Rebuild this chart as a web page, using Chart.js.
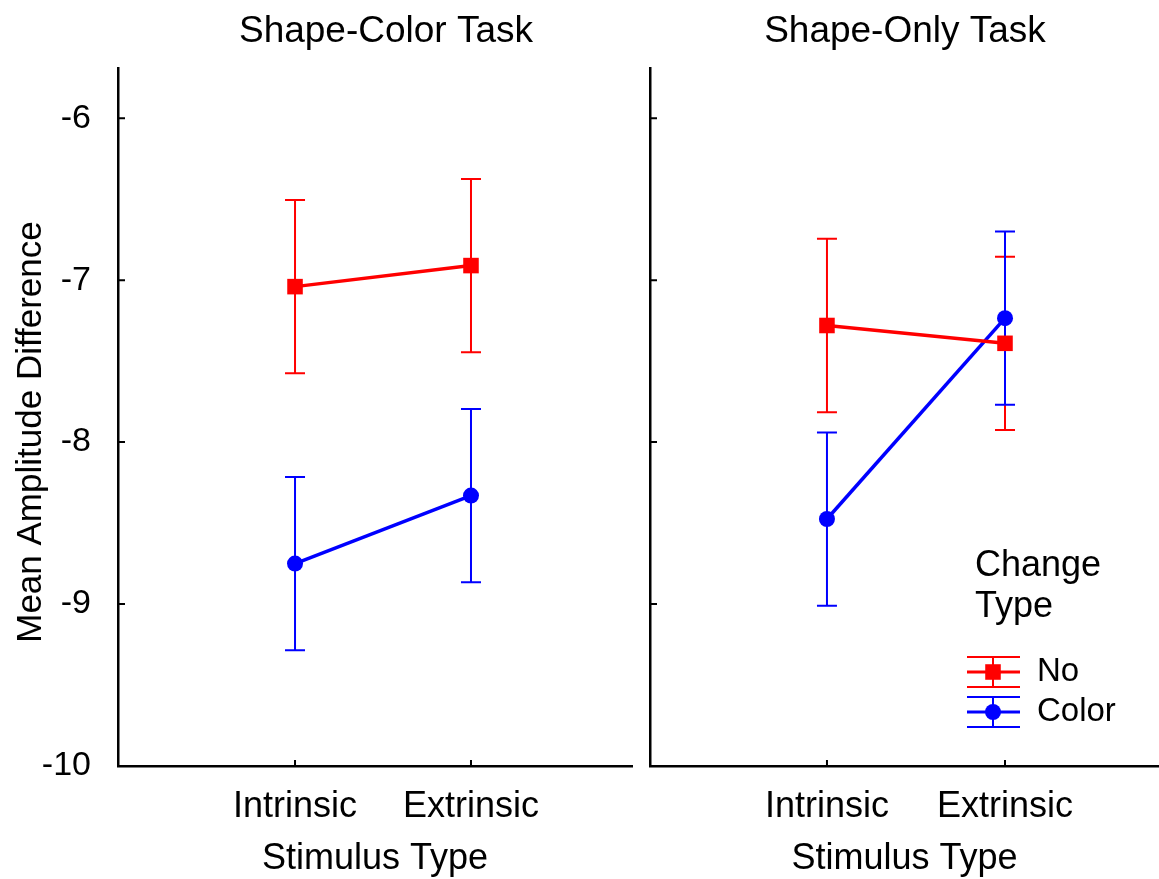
<!DOCTYPE html>
<html>
<head>
<meta charset="utf-8">
<script src="https://cdn.jsdelivr.net/npm/chart.js@4/dist/chart.umd.min.js"></script>
<style>
    body { margin: 0; background: #fff; }
    canvas { position: absolute; top: 0; }
    #left { left: 0; }
    #right { left: 640px; }
</style>
</head>
<body>
<canvas id="left" width="640" height="879" style="width:640px;height:879px"></canvas>
<canvas id="right" width="519" height="879" style="width:519px;height:879px"></canvas>
<script>
// --------------------------------
// Data
// --------------------------------

const categories = ['Intrinsic', 'Extrinsic'];
const yTicks = [-10, -9, -8, -7, -6];
const seriesNames = ['No', 'Color'];

const colorTaskNo = [-7.04, -6.91];
const colorTaskNoErr = [0.535, 0.535];
const colorTaskColor = [-8.75, -8.33];
const colorTaskColorErr = [0.535, 0.535];

const onlyTaskNo = [-7.28, -7.39];
const onlyTaskNoErr = [0.535, 0.535];
const onlyTaskColor = [-8.475, -7.235];
const onlyTaskColorErr = [0.535, 0.535];

// --------------------------------
// Styles
// --------------------------------

const FONT = "'Liberation Sans', Arial, sans-serif";
const RED = 'rgb(255, 0, 0)';
const BLUE = 'rgb(0, 0, 255)';

// --------------------------------
// Plugins
// --------------------------------

const errorBars = {
    id: 'errorBars',
    beforeDatasetsDraw(chart) {
        const ctx = chart.ctx;
        const y = chart.scales.y;
        chart.data.datasets.forEach((ds, i) => {
            const meta = chart.getDatasetMeta(i);
            ctx.save();
            ctx.strokeStyle = ds.borderColor;
            ctx.lineWidth = 2;
            meta.data.forEach((pt, j) => {
                const top = y.getPixelForValue(ds.data[j].y + ds.errors[j]);
                const bot = y.getPixelForValue(ds.data[j].y - ds.errors[j]);
                ctx.beginPath();
                ctx.moveTo(pt.x, top);
                ctx.lineTo(pt.x, bot);
                ctx.moveTo(pt.x - 10, top);
                ctx.lineTo(pt.x + 10, top);
                ctx.moveTo(pt.x - 10, bot);
                ctx.lineTo(pt.x + 10, bot);
                ctx.stroke();
            });
            ctx.restore();
        });
    }
};

// inward tick marks on both axes
const innerTicks = {
    id: 'innerTicks',
    afterDraw(chart) {
        const ctx = chart.ctx;
        const x = chart.scales.x;
        const y = chart.scales.y;
        const area = chart.chartArea;
        ctx.save();
        ctx.strokeStyle = '#000';
        ctx.lineWidth = 2;
        ctx.beginPath();
        yTicks.forEach(v => {
            const py = y.getPixelForValue(v);
            ctx.moveTo(area.left, py);
            ctx.lineTo(area.left + 7, py);
        });
        categories.forEach((c, i) => {
            const px = x.getPixelForValue(i);
            ctx.moveTo(px, area.bottom);
            ctx.lineTo(px, area.bottom - 6);
        });
        ctx.stroke();
        ctx.restore();
    }
};

const panelText = {
    id: 'panelText',
    afterDraw(chart, args, opts) {
        const ctx = chart.ctx;
        ctx.save();
        ctx.fillStyle = '#000';
        ctx.font = '37px ' + FONT;
        ctx.textAlign = 'center';
        ctx.textBaseline = 'middle';
        ctx.fillText(opts.title, opts.titleX, 32);

        if (opts.yTitle) {
            ctx.font = '35px ' + FONT;
            ctx.translate(31, 432);
            ctx.rotate(-Math.PI / 2);
            ctx.fillText(opts.yTitle, 0, 0);
        }
        ctx.restore();
    }
};

const errorLegend = {
    id: 'errorLegend',
    afterDraw(chart, args, opts) {
        if (!opts.show) { return }
        const ctx = chart.ctx;
        const colors = [RED, BLUE];
        const styles = ['rect', 'circle'];
        ctx.save();
        ctx.fillStyle = '#000';
        ctx.font = '36px ' + FONT;
        ctx.textAlign = 'left';
        ctx.textBaseline = 'middle';
        ctx.fillText('Change', 335, 566);
        ctx.fillText('Type', 335, 607);

        ctx.font = '33px ' + FONT;
        seriesNames.forEach((name, i) => {
            const cy = 672 + i * 40;
            ctx.strokeStyle = colors[i];
            ctx.lineWidth = 2;
            ctx.beginPath();
            ctx.moveTo(327, cy - 15);
            ctx.lineTo(380, cy - 15);
            ctx.moveTo(327, cy + 15);
            ctx.lineTo(380, cy + 15);
            ctx.moveTo(353, cy - 15);
            ctx.lineTo(353, cy + 15);
            ctx.stroke();
            ctx.lineWidth = 3;
            ctx.beginPath();
            ctx.moveTo(327, cy);
            ctx.lineTo(380, cy);
            ctx.stroke();
            ctx.fillStyle = colors[i];
            Chart.helpers.drawPoint(ctx, {
                pointStyle: styles[i],
                radius: styles[i] === 'rect' ? 11 : 8,
                borderWidth: 0
            }, 353, cy);
            ctx.fillStyle = '#000';
            ctx.fillText(name, 397, cy);
        });
        ctx.restore();
    }
};

// --------------------------------
// Panels
// --------------------------------

function toPoints(values) {
    return values.map((v, i) => ({ x: i, y: v }));
}

function makePanel(canvas, noVals, noErr, colorVals, colorErr, opts) {
    return new Chart(canvas, {
        type: 'line',
        data: {
            datasets: [{
                label: seriesNames[0],
                data: toPoints(noVals),
                errors: noErr,
                borderColor: RED,
                backgroundColor: RED,
                borderWidth: 3.5,
                pointStyle: 'rect',
                pointRadius: 11,
                pointBorderWidth: 0,
                tension: 0
            }, {
                label: seriesNames[1],
                data: toPoints(colorVals),
                errors: colorErr,
                borderColor: BLUE,
                backgroundColor: BLUE,
                borderWidth: 3.5,
                pointStyle: 'circle',
                pointRadius: 8,
                pointBorderWidth: 0,
                tension: 0
            }]
        },
        options: {
            responsive: false,
            animation: false,
            events: [],
            layout: {
                autoPadding: false,
                padding: { top: 68, right: opts.padRight, left: 0, bottom: 0 }
            },
            plugins: {
                legend: { display: false },
                tooltip: { enabled: false },
                panelText: { title: opts.title, titleX: opts.titleX, yTitle: opts.yTitle },
                errorLegend: { show: opts.legend }
            },
            scales: {
                x: {
                    type: 'linear',
                    min: opts.xMin,
                    max: opts.xMax,
                    afterBuildTicks: scale => {
                        scale.ticks = categories.map((c, i) => ({ value: i }));
                    },
                    afterFit: scale => { scale.height = 113; },
                    grid: { display: false },
                    border: { display: true, color: '#000', width: 2.5 },
                    ticks: {
                        color: '#000',
                        padding: 11,
                        maxRotation: 0,
                        autoSkip: false,
                        font: { family: FONT, size: 36 },
                        callback: v => categories[v]
                    },
                    title: {
                        display: true,
                        text: 'Stimulus Type',
                        color: '#000',
                        padding: { top: 0, bottom: -2 },
                        font: { family: FONT, size: 36 }
                    }
                },
                y: {
                    min: -10,
                    max: -5.69,
                    afterBuildTicks: scale => {
                        scale.ticks = yTicks.map(v => ({ value: v }));
                    },
                    afterFit: scale => { scale.width = opts.yWidth; },
                    grid: { display: false },
                    border: { display: true, color: '#000', width: 2.5 },
                    ticks: {
                        display: opts.yLabels,
                        color: '#000',
                        padding: 19,
                        font: { family: FONT, size: 34 }
                    }
                }
            }
        },
        plugins: [errorBars, innerTicks, panelText, errorLegend]
    });
}

const leftChart = makePanel(document.getElementById('left'),
    colorTaskNo, colorTaskNoErr, colorTaskColor, colorTaskColorErr, {
        title: 'Shape-Color Task',
        titleX: 386,
        yTitle: 'Mean Amplitude Difference',
        yLabels: true,
        yWidth: 118,
        padRight: 8,
        xMin: -1.006,
        xMax: 1.915,
        legend: false
    });

const rightChart = makePanel(document.getElementById('right'),
    onlyTaskNo, onlyTaskNoErr, onlyTaskColor, onlyTaskColorErr, {
        title: 'Shape-Only Task',
        titleX: 265,
        yTitle: null,
        yLabels: false,
        yWidth: 10,
        padRight: 0,
        xMin: -0.994,
        xMax: 1.865,
        legend: true
    });
</script>
</body>
</html>
